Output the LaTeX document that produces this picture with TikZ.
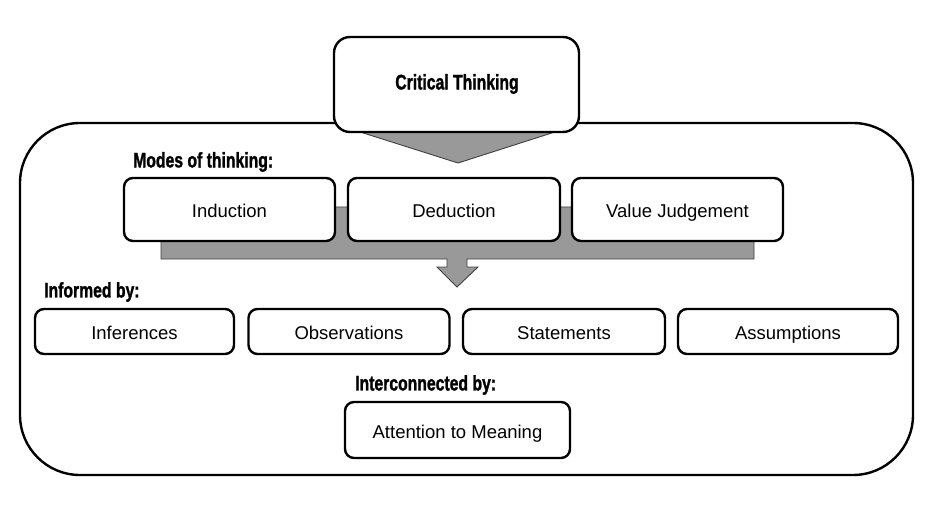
\documentclass[tikz,border=0pt]{standalone}
\usepackage{fontspec}
\usepackage{graphicx}
\setmainfont{Liberation Sans}
\newfontface\hdrface[FakeBold=1.6]{Liberation Sans Bold}
\newcommand{\hdrtext}[1]{\scalebox{0.75}[1]{\fontsize{21}{24}\hdrface #1}}
\begin{document}
\begin{tikzpicture}[x=1pt,y=-1pt,
  box/.style={draw=black, line width=2.4pt, fill=white, rounded corners=9pt,
    inner sep=0pt, text height=16pt, text depth=0pt,
    font=\fontsize{18.5}{22}\selectfont},
  hdr/.style={inner sep=0pt, anchor=west},
  grayshape/.style={fill=black!40, draw=black!75, line width=0.9pt}]
\useasboundingbox (0,0) rectangle (929,513);
% outer frame
\draw[line width=2.4pt, rounded corners=60pt] (20,123) rectangle (913,475);
% gray triangle under the title
\path[grayshape] (357,131) -- (558,131) -- (458,163) -- cycle;
% title box
\node[box, rounded corners=16pt, minimum width=245pt, minimum height=95pt]
  (ct) at (456.5,84.5) {};
\node[inner sep=0pt] (ctt) at (457,84) {\hdrtext{Critical Thinking}};
% gray band with down arrow
\path[grayshape] (161,207) -- (754,207) -- (754,259) -- (467,259) -- (467,267)
  -- (478,267) -- (457,287) -- (437,267) -- (447,267) -- (447,259) -- (161,259) -- cycle;
% modes
\node[hdr] (modes) at (133,162) {\hdrtext{Modes of thinking:}};
\node[box, minimum width=211pt, minimum height=63pt] (ind) at (229.5,209.5) {Induction};
\node[box, minimum width=212pt, minimum height=63pt] (ded) at (454,209.5) {Deduction};
\node[box, minimum width=211pt, minimum height=63pt] (val) at (677.5,209.5) {Value Judgement};
% informed by
\node[hdr] (inf) at (44,292) {\hdrtext{Informed by:}};
\node[box, minimum width=199pt, minimum height=45pt] (b1) at (134.5,331.5) {Inferences};
\node[box, minimum width=201pt, minimum height=45pt] (b2) at (349,331.5) {Observations};
\node[box, minimum width=202pt, minimum height=45pt] (b3) at (564,331.5) {Statements};
\node[box, minimum width=220pt, minimum height=45pt] (b4) at (788,331.5) {Assumptions};
% interconnected by
\node[hdr] (icb) at (355,385) {\hdrtext{Interconnected by:}};
\node[box, minimum width=225pt, minimum height=56pt] (att) at (457.5,430) {Attention to Meaning};
\end{tikzpicture}
\end{document}
